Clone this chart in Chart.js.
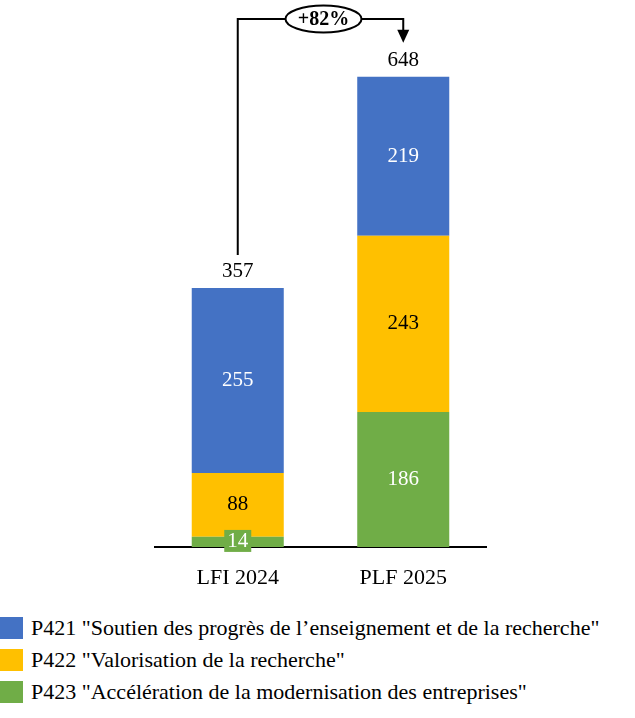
<!DOCTYPE html>
<html>
<head>
<meta charset="utf-8">
<script src="https://cdn.jsdelivr.net/npm/chart.js@4.4.1/dist/chart.umd.min.js"></script>
<style>
  body { margin: 0; background: #fff; }
  #wrap { position: relative; width: 635px; height: 718px; }
  #legend { position: absolute; left: 0; top: 612px; font-family: "Liberation Serif", serif; font-size: 22px; color: #000; }
  .row { display: flex; align-items: center; height: 32px; }
  .box { width: 23px; height: 22px; margin-right: 8px; flex: none; }
</style>
</head>
<body>
<div id="wrap">
  <canvas id="chart" width="635" height="600"></canvas>
  <div id="legend"></div>
</div>
<script>
var categories = ["LFI 2024", "PLF 2025"];
var p421 = [255, 219];
var p422 = [88, 243];
var p423 = [14, 186];
var seriesNames = [
  'P421 "Soutien des progrès de l\u2019enseignement et de la recherche"',
  'P422 "Valorisation de la recherche"',
  'P423 "Accélération de la modernisation des entreprises"'
];
var growthLabel = "+82%";

var blue = "#4472C4", yellow = "#FFC000", green = "#70AD47";
var fontFam = "'Liberation Serif', serif";

var labelsPlugin = {
  id: 'labels',
  afterDatasetsDraw: function(chart) {
    var ctx = chart.ctx;
    ctx.save();
    ctx.font = "21px " + fontFam;
    ctx.textAlign = "center";
    ctx.textBaseline = "middle";
    chart.data.datasets.forEach(function(ds, i) {
      var meta = chart.getDatasetMeta(i);
      meta.data.forEach(function(bar, j) {
        var cy = (bar.y + bar.base) / 2;
        var txt = String(ds.data[j]);
        if (bar.base - bar.y < 20) {
          var w = ctx.measureText(txt).width + 6;
          ctx.fillStyle = ds.backgroundColor;
          ctx.fillRect(bar.x - w / 2, cy - 12, w, 22);
        }
        ctx.fillStyle = ds.labelColor;
        ctx.fillText(txt, bar.x, cy);
      });
    });
    // totals
    var top = chart.getDatasetMeta(chart.data.datasets.length - 1).data;
    var totals = categories.map(function(c, j) { return p421[j] + p422[j] + p423[j]; });
    ctx.fillStyle = "#000";
    top.forEach(function(bar, j) {
      ctx.fillText(String(totals[j]), bar.x, bar.y - 16);
    });
    // growth bracket
    var x0 = top[0].x, x1 = top[1].x;
    var yTop = 19, y0 = top[0].y - 33, yTip = top[1].y - 34;
    var ex = (x0 + x1) / 2 + 3;
    ctx.strokeStyle = "#000";
    ctx.lineWidth = 2;
    ctx.beginPath();
    ctx.moveTo(x0, y0);
    ctx.lineTo(x0, yTop);
    ctx.lineTo(x1, yTop);
    ctx.lineTo(x1, yTip - 12);
    ctx.stroke();
    ctx.beginPath();
    ctx.moveTo(x1 - 6, yTip - 13);
    ctx.lineTo(x1 + 6, yTip - 13);
    ctx.lineTo(x1, yTip);
    ctx.closePath();
    ctx.fillStyle = "#000";
    ctx.fill();
    ctx.beginPath();
    ctx.ellipse(ex, yTop, 38, 13.5, 0, 0, Math.PI * 2);
    ctx.fillStyle = "#fff";
    ctx.fill();
    ctx.stroke();
    ctx.fillStyle = "#000";
    ctx.font = "bold 20px " + fontFam;
    ctx.fillText(growthLabel, ex, yTop + 1);
    ctx.restore();
  }
};

var chart = new Chart(document.getElementById("chart"), {
  type: 'bar',
  data: {
    labels: categories,
    datasets: [
      { label: seriesNames[2], data: p423, backgroundColor: green, labelColor: "#fff" },
      { label: seriesNames[1], data: p422, backgroundColor: yellow, labelColor: "#000" },
      { label: seriesNames[0], data: p421, backgroundColor: blue, labelColor: "#fff" }
    ]
  },
  options: {
    responsive: false,
    animation: false,
    layout: { padding: { left: 155, right: 149, top: 39, bottom: 0 } },
    datasets: { bar: { categoryPercentage: 1, barPercentage: 0.556 } },
    plugins: { legend: { display: false }, tooltip: { enabled: false } },
    scales: {
      x: {
        stacked: true,
        grid: { display: false },
        border: { display: true, color: "#000", width: 2 },
        ticks: { color: "#000", font: { family: fontFam, size: 22 }, padding: 10 },
        afterFit: function(s) { s.height = 53; }
      },
      y: { stacked: true, display: false, min: 0, max: 700 }
    }
  },
  plugins: [labelsPlugin]
});

var legend = document.getElementById("legend");
[[seriesNames[0], blue], [seriesNames[1], yellow], [seriesNames[2], green]].forEach(function(it) {
  var row = document.createElement("div");
  row.className = "row";
  var b = document.createElement("div");
  b.className = "box";
  b.style.background = it[1];
  var t = document.createElement("span");
  t.textContent = it[0];
  row.appendChild(b);
  row.appendChild(t);
  legend.appendChild(row);
});
</script>
</body>
</html>
